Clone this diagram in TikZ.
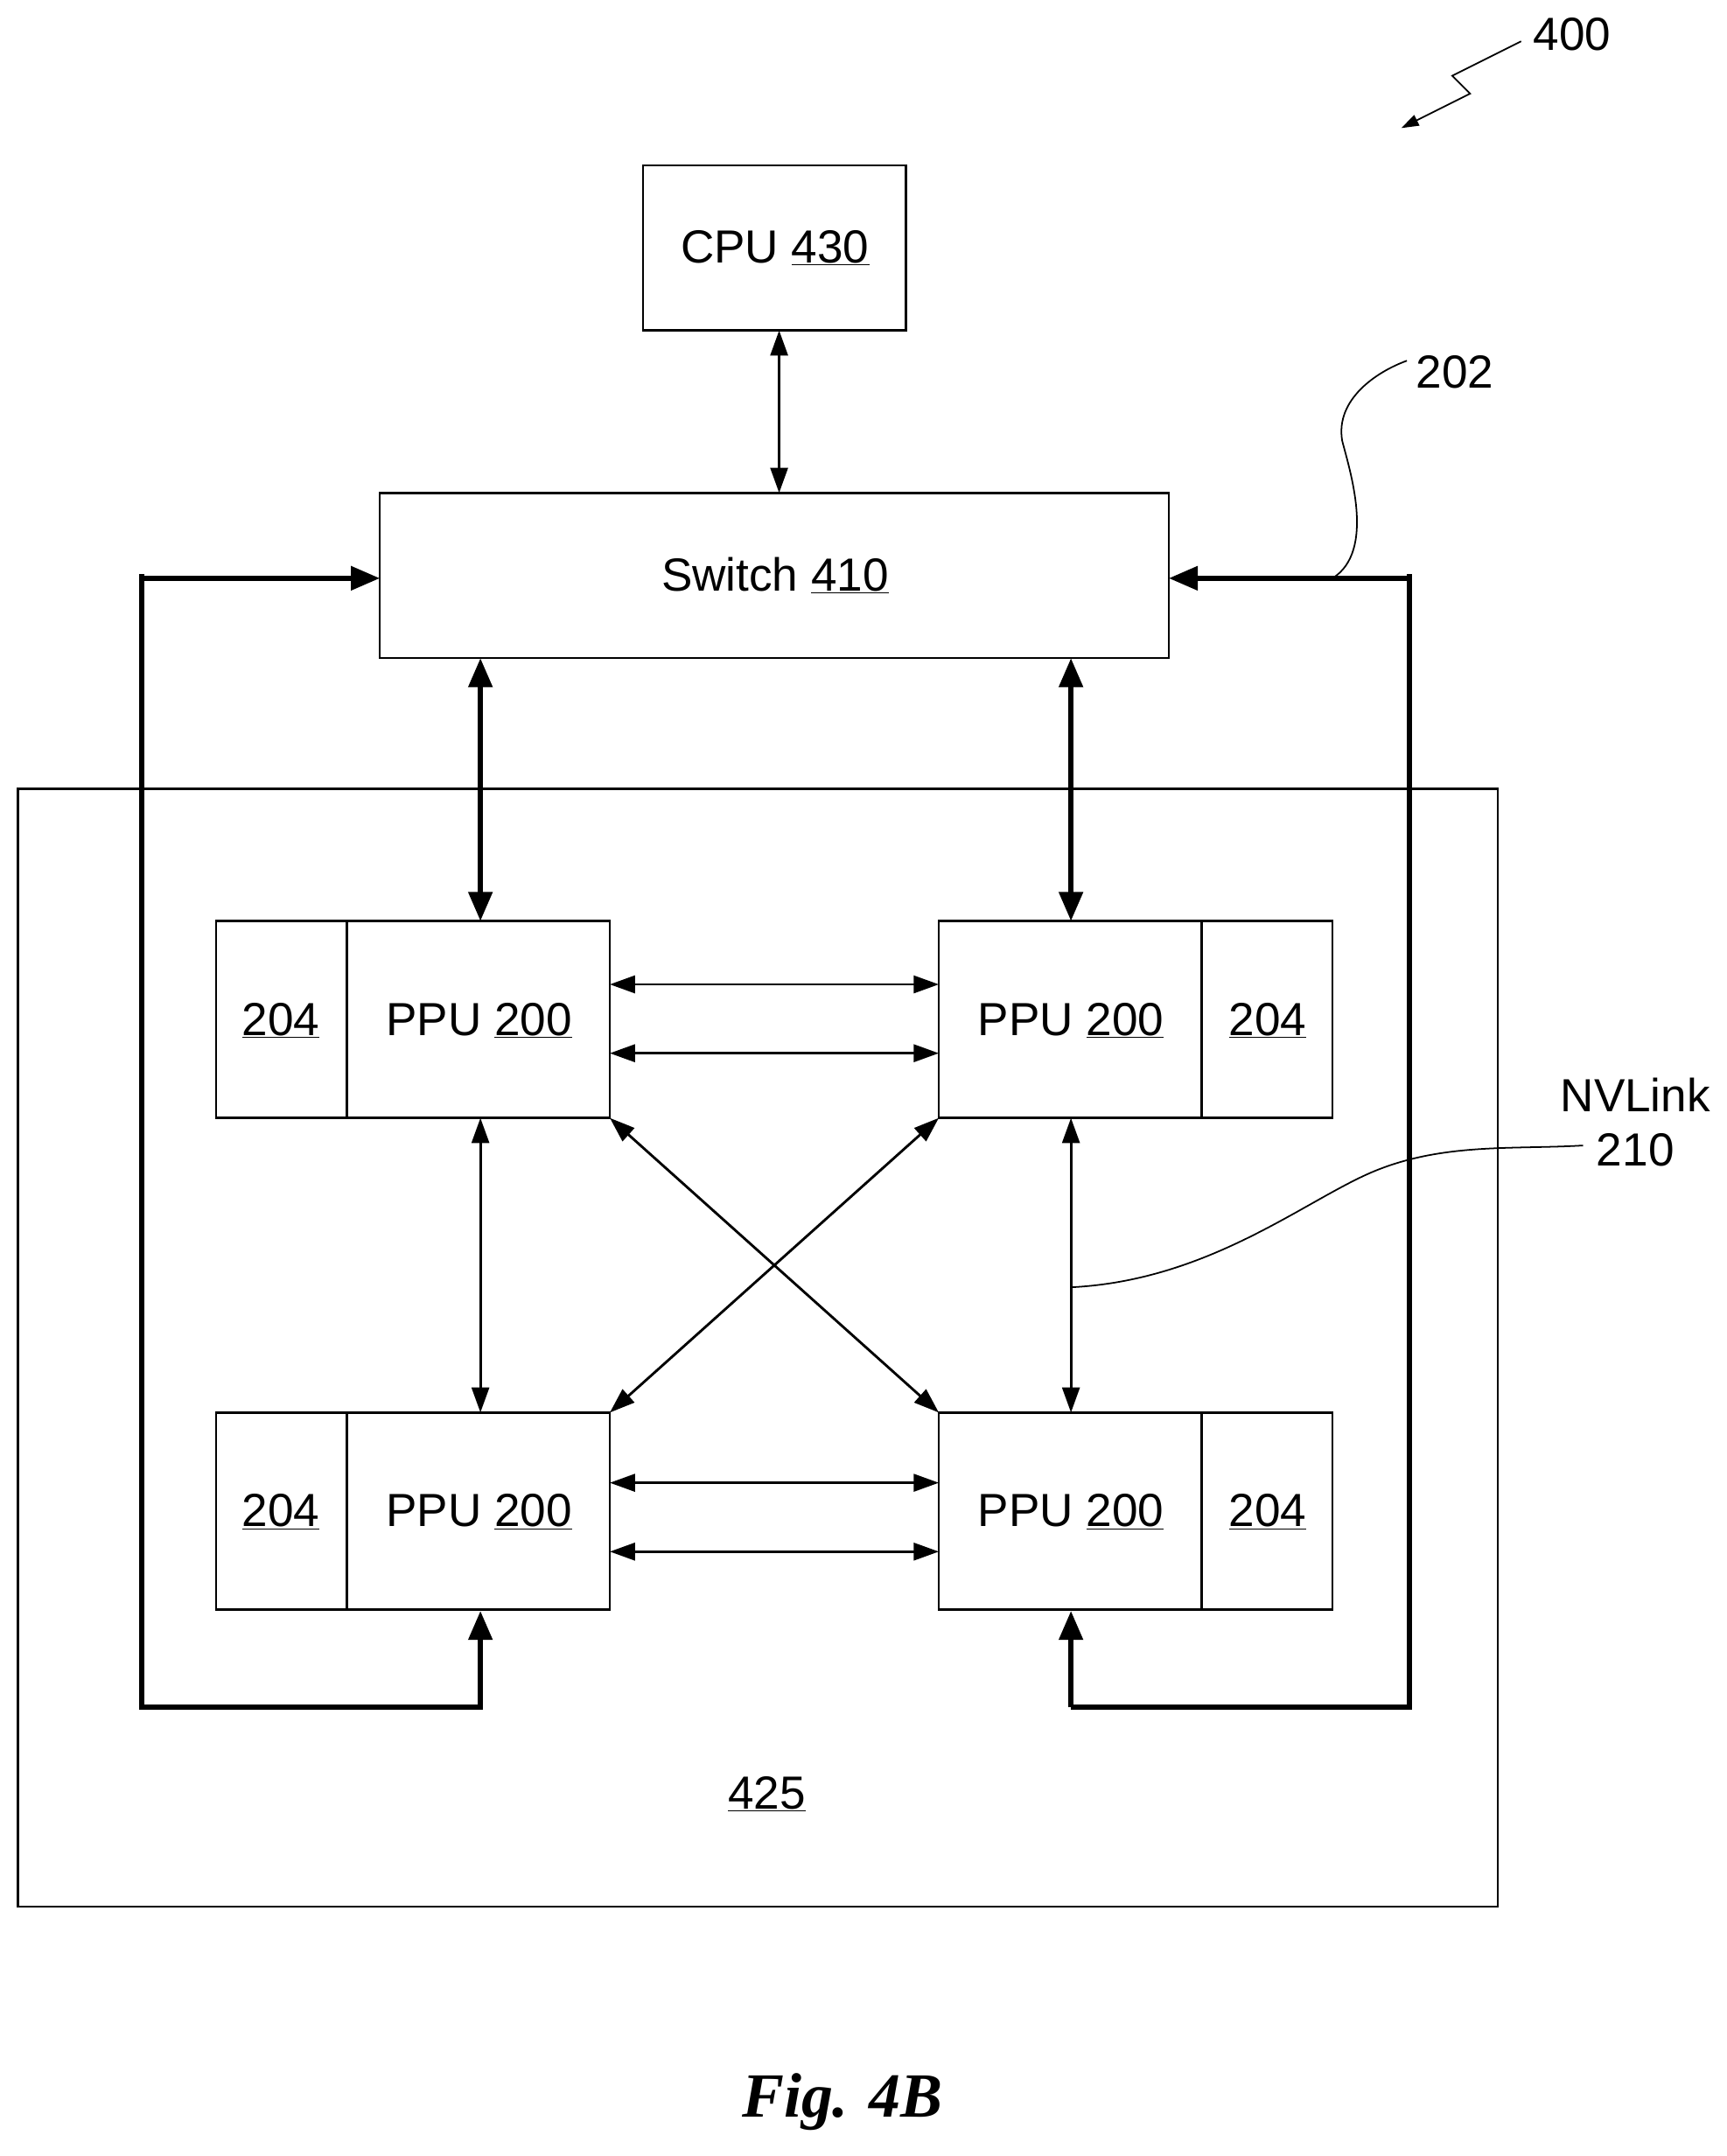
\documentclass[tikz,border=0pt]{standalone}
\usepackage{fontspec}
\setmainfont{Liberation Sans}
\newfontfamily\figfont{Liberation Serif}
\usetikzlibrary{arrows.meta}
\begin{document}
\begin{tikzpicture}[x=0.05cm,y=-0.05cm,
  box/.style={draw,line width=2.2pt},
  lbl/.style={font=\fontsize{48}{56}\selectfont},
  thin/.style={line width=2.6pt,{Triangle[length=26pt,width=18pt]}-{Triangle[length=26pt,width=18pt]}},
  thick/.style={line width=5.5pt,{Triangle[length=30pt,width=24pt]}-{Triangle[length=30pt,width=24pt]}},
  loop/.style={line width=5.5pt,-{Triangle[length=30pt,width=24pt]}},
  lead/.style={line width=1.6pt}]
\useasboundingbox (0,0) rectangle (1254,1566);
\draw[box] (467,120) rectangle (658,240);
\node[lbl] (cpu) at (563,180) {CPU \underline{430}};
\draw[box] (276,358) rectangle (849,478);
\node[lbl] (sw) at (563,418) {Switch \underline{410}};
\draw[box] (13,573) rectangle (1088,1385);
\node[lbl] (n425) at (557,1303) {\underline{425}};
\foreach \nm/\x/\y/\d/\px/\mx in {tl/157/669/252/348/204, bl/157/1026/252/348/204, tr/682/669/873/778/921, br/682/1026/873/778/921}{
  \draw[box] (\x,\y) rectangle ++(286,143);
  \draw[box] (\d,\y) -- ++(0,143);
  \node[lbl] at (\px,\y+72) {PPU \underline{200}};
  \node[lbl] at (\mx,\y+72) {\underline{204}};
}
\draw[thin] (566,240) -- (566,358);
\draw[thick] (349,478) -- (349,669);
\draw[thick] (778,478) -- (778,669);
\draw[thin] (443,715) -- (682,715);
\draw[thin] (443,765) -- (682,765);
\draw[thin] (443,1077) -- (682,1077);
\draw[thin] (443,1127) -- (682,1127);
\draw[thin] (349,812) -- (349,1026);
\draw[thin] (778,812) -- (778,1026);
\draw[thin] (443,812) -- (682,1026);
\draw[thin] (682,812) -- (443,1026);
\draw[loop] (103,420) -- (276,420);
\draw[line width=5.5pt,line join=miter] (349,1210) -- (349,1240) -- (103,1240) -- (103,417);
\draw[loop] (349,1240) -- (349,1170);
\draw[loop] (1024,420) -- (849,420);
\draw[line width=5.5pt,line join=miter] (778,1240) -- (1024,1240) -- (1024,417);
\draw[loop] (778,1240) -- (778,1170);
\node[lbl] (l202) at (1057,270) {202};
\draw[lead] (968,420) .. controls (1000,400) and (980,340) .. (975,320) .. controls (970,290) and (1000,270) .. (1022,262);
\node[lbl,align=center] (nv) at (1188,815) {NVLink\\210};
\draw[lead] (778,935) .. controls (880,930) and (950,870) .. (1000,850) .. controls (1050,830) and (1100,835) .. (1150,832);
\node[lbl] (l400) at (1142,25) {400};
\draw[lead,-{Triangle[length=18pt,width=12pt]}] (1105,30) -- (1055,55) -- (1068,68) -- (1018,93);
\node[font=\figfont\bfseries\itshape\fontsize{65}{72}\selectfont] (fig) at (612,1527) {Fig. 4B};
\end{tikzpicture}
\end{document}
